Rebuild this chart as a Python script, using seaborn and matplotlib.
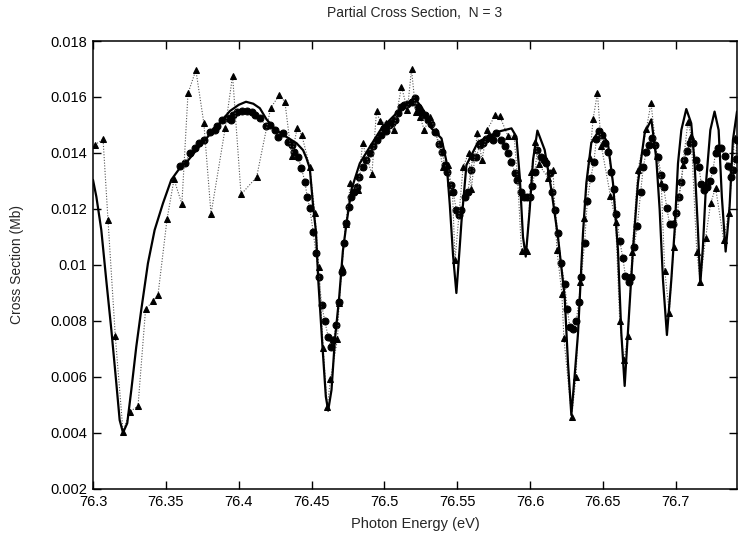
import numpy as np
import pandas as pd
import seaborn as sns
import matplotlib.pyplot as plt

# theory curve (solid)
theory_x = [76.3000, 76.3023, 76.3057, 76.3091, 76.3126, 76.3160, 76.3183, 76.3206, 76.3235, 76.3263,
            76.3297, 76.3331, 76.3377, 76.3423, 76.3480, 76.3537, 76.3594, 76.3650, 76.3740, 76.3825,
            76.3940, 76.4000, 76.4050, 76.4100, 76.4145, 76.4191, 76.4250, 76.4305, 76.4397, 76.4442,
            76.4466, 76.4488, 76.4511, 76.4530, 76.4546, 76.4575, 76.4598, 76.4614, 76.4637, 76.4660,
            76.4690, 76.4715, 76.4740, 76.4774, 76.4831, 76.4900, 76.4980, 76.5094, 76.5186, 76.5209,
            76.5260, 76.5323, 76.5392, 76.5426, 76.5449, 76.5471, 76.5494, 76.5515, 76.5529, 76.5563,
            76.5643, 76.5780, 76.5872, 76.5906, 76.5929, 76.5951, 76.5970, 76.5997, 76.6020, 76.6050,
            76.6100, 76.6146, 76.6191, 76.6237, 76.6260, 76.6283, 76.6305, 76.6329, 76.6363, 76.6386,
            76.6420, 76.6477, 76.6534, 76.6569, 76.6603, 76.6626, 76.6649, 76.6671, 76.6706, 76.6740,
            76.6786, 76.6832, 76.6866, 76.6889, 76.6912, 76.6939, 76.6969, 76.6992, 76.7015, 76.7038,
            76.7072, 76.7106, 76.7129, 76.7152, 76.7168, 76.7186, 76.7209, 76.7237, 76.7266, 76.7294,
            76.7316, 76.7342, 76.7369, 76.7392, 76.7420]
theory_y = [0.01304, 0.01244, 0.01125, 0.00946, 0.00768, 0.00578, 0.00446, 0.00401, 0.00435, 0.00554,
            0.00708, 0.00839, 0.01006, 0.01125, 0.01220, 0.01304, 0.01345, 0.01372, 0.01430, 0.01480,
            0.01550, 0.01572, 0.01583, 0.01576, 0.01560, 0.01520, 0.01485, 0.01465, 0.01435, 0.01410,
            0.01380, 0.01345, 0.01208, 0.01120, 0.00946, 0.00708, 0.00530, 0.00480, 0.00554, 0.00732,
            0.00887, 0.01050, 0.01149, 0.01270, 0.01363, 0.01422, 0.01488, 0.01548, 0.01589, 0.01595,
            0.01560, 0.01488, 0.01452, 0.01369, 0.01214, 0.01036, 0.00900, 0.01050, 0.01155, 0.01357,
            0.01440, 0.01476, 0.01488, 0.01458, 0.01315, 0.01101, 0.01030, 0.01196, 0.01375, 0.01480,
            0.01411, 0.01268, 0.01101, 0.00887, 0.00650, 0.00464, 0.00600, 0.00757, 0.01114, 0.01293,
            0.01436, 0.01485, 0.01435, 0.01292, 0.01054, 0.00757, 0.00568, 0.00757, 0.01054, 0.01292,
            0.01470, 0.01520, 0.01380, 0.01200, 0.00946, 0.00750, 0.00946, 0.01125, 0.01363, 0.01482,
            0.01557, 0.01506, 0.01363, 0.01125, 0.00932, 0.01065, 0.01304, 0.01482, 0.01548, 0.01482,
            0.01244, 0.01048, 0.01208, 0.01446, 0.01548]

# triangles (dotted)
tri_x = [76.3012, 76.3069, 76.3103, 76.3153, 76.3206, 76.3252, 76.3309, 76.3361, 76.3412, 76.3446,
         76.3508, 76.3556, 76.3610, 76.3652, 76.3706, 76.3761, 76.3810, 76.3907, 76.3958, 76.4016,
         76.4123, 76.4219, 76.4278, 76.4317, 76.4363, 76.4401, 76.4433, 76.4488, 76.4523, 76.4550,
         76.4580, 76.4607, 76.4630, 76.4678, 76.4689, 76.4706, 76.4735, 76.4767, 76.4819, 76.4850,
         76.4914, 76.4946, 76.4968, 76.5014, 76.5064, 76.5117, 76.5158, 76.5186, 76.5215, 76.5245,
         76.5273, 76.5313, 76.5356, 76.5400, 76.5435, 76.5467, 76.5485, 76.5540, 76.5578, 76.5597,
         76.5637, 76.5670, 76.5705, 76.5762, 76.5791, 76.5848, 76.5890, 76.5914, 76.5941, 76.5976,
         76.6009, 76.6035, 76.6060, 76.6123, 76.6157, 76.6184, 76.6218, 76.6232, 76.6285, 76.6315,
         76.6343, 76.6370, 76.6409, 76.6432, 76.6462, 76.6489, 76.6551, 76.6587, 76.6615, 76.6644,
         76.6672, 76.6700, 76.6740, 76.6797, 76.6830, 76.6870, 76.6900, 76.6924, 76.6955, 76.6985,
         76.7049, 76.7083, 76.7106, 76.7144, 76.7168, 76.7204, 76.7239, 76.7273, 76.7328, 76.7364,
         76.7403]
tri_y = [0.01429, 0.01449, 0.01161, 0.00746, 0.00405, 0.00476, 0.00496, 0.00843, 0.00871, 0.00893,
         0.01163, 0.01306, 0.01218, 0.01613, 0.01696, 0.01506, 0.01182, 0.01488, 0.01676, 0.01252,
         0.01314, 0.01560, 0.01607, 0.01583, 0.01389, 0.01488, 0.01464, 0.01351, 0.01185, 0.00992,
         0.00703, 0.00492, 0.00592, 0.00735, 0.00865, 0.00992, 0.01146, 0.01292, 0.01268, 0.01435,
         0.01324, 0.01551, 0.01515, 0.01506, 0.01482, 0.01637, 0.01554, 0.01699, 0.01548, 0.01530,
         0.01482, 0.01527, 0.01478, 0.01351, 0.01357, 0.01262, 0.01018, 0.01350, 0.01400, 0.01270,
         0.01470, 0.01375, 0.01482, 0.01537, 0.01532, 0.01461, 0.01461, 0.01310, 0.01050, 0.01050,
         0.01333, 0.01438, 0.01359, 0.01312, 0.01339, 0.01054, 0.00898, 0.00738, 0.00458, 0.00600,
         0.00938, 0.01167, 0.01381, 0.01520, 0.01615, 0.01425, 0.01248, 0.01155, 0.00800, 0.00660,
         0.00746, 0.01048, 0.01339, 0.01484, 0.01578, 0.01390, 0.01292, 0.00980, 0.00830, 0.01065,
         0.01357, 0.01512, 0.01459, 0.01046, 0.00940, 0.01095, 0.01220, 0.01276, 0.01090, 0.01187,
         0.01452]

# circles (dotted)
circ_x = [76.3597, 76.3631, 76.3665, 76.3700, 76.3730, 76.3761, 76.3802, 76.3837, 76.3853, 76.3883,
          76.3917, 76.3944, 76.3962, 76.3986, 76.4020, 76.4054, 76.4088, 76.4111, 76.4145, 76.4187,
          76.4214, 76.4248, 76.4271, 76.4305, 76.4339, 76.4363, 76.4379, 76.4408, 76.4431, 76.4454,
          76.4470, 76.4488, 76.4511, 76.4530, 76.4552, 76.4569, 76.4591, 76.4614, 76.4632, 76.4648,
          76.4671, 76.4690, 76.4706, 76.4722, 76.4735, 76.4758, 76.4774, 76.4790, 76.4809, 76.4826,
          76.4850, 76.4872, 76.4900, 76.4922, 76.4952, 76.4975, 76.4997, 76.5014, 76.5031, 76.5049,
          76.5071, 76.5094, 76.5113, 76.5135, 76.5158, 76.5186, 76.5209, 76.5231, 76.5254, 76.5277,
          76.5300, 76.5323, 76.5346, 76.5373, 76.5396, 76.5414, 76.5433, 76.5455, 76.5471, 76.5494,
          76.5512, 76.5529, 76.5551, 76.5574, 76.5593, 76.5608, 76.5632, 76.5654, 76.5677, 76.5700,
          76.5723, 76.5746, 76.5769, 76.5803, 76.5826, 76.5849, 76.5872, 76.5894, 76.5912, 76.5935,
          76.5958, 76.5981, 76.5997, 76.6016, 76.6032, 76.6050, 76.6073, 76.6095, 76.6112, 76.6134,
          76.6150, 76.6173, 76.6191, 76.6214, 76.6237, 76.6256, 76.6272, 76.6294, 76.6317, 76.6333,
          76.6352, 76.6374, 76.6393, 76.6416, 76.6438, 76.6455, 76.6473, 76.6493, 76.6517, 76.6534,
          76.6558, 76.6575, 76.6592, 76.6615, 76.6637, 76.6654, 76.6676, 76.6695, 76.6713, 76.6736,
          76.6759, 76.6777, 76.6797, 76.6813, 76.6836, 76.6855, 76.6877, 76.6900, 76.6916, 76.6939,
          76.6957, 76.6980, 76.6999, 76.7019, 76.7038, 76.7056, 76.7076, 76.7099, 76.7117, 76.7136,
          76.7159, 76.7175, 76.7193, 76.7217, 76.7237, 76.7255, 76.7273, 76.7289, 76.7312, 76.7335,
          76.7358, 76.7376, 76.7392, 76.7410, 76.7420]
circ_y = [0.01354, 0.01363, 0.01399, 0.01419, 0.01435, 0.01446, 0.01476, 0.01482, 0.01497, 0.01518,
          0.01526, 0.01518, 0.01536, 0.01545, 0.01550, 0.01550, 0.01545, 0.01536, 0.01526, 0.01497,
          0.01500, 0.01482, 0.01458, 0.01470, 0.01440, 0.01429, 0.01405, 0.01385, 0.01345, 0.01298,
          0.01244, 0.01202, 0.01119, 0.01042, 0.00958, 0.00857, 0.00800, 0.00744, 0.00708, 0.00732,
          0.00786, 0.00869, 0.00976, 0.01077, 0.01149, 0.01208, 0.01244, 0.01262, 0.01280, 0.01315,
          0.01349, 0.01375, 0.01399, 0.01426, 0.01446, 0.01464, 0.01488, 0.01479, 0.01500, 0.01506,
          0.01518, 0.01542, 0.01565, 0.01571, 0.01574, 0.01583, 0.01595, 0.01565, 0.01548, 0.01536,
          0.01518, 0.01502, 0.01476, 0.01431, 0.01405, 0.01357, 0.01333, 0.01286, 0.01262, 0.01196,
          0.01179, 0.01196, 0.01244, 0.01262, 0.01339, 0.01387, 0.01387, 0.01429, 0.01435, 0.01449,
          0.01456, 0.01446, 0.01470, 0.01446, 0.01425, 0.01399, 0.01369, 0.01330, 0.01304, 0.01262,
          0.01242, 0.01242, 0.01242, 0.01282, 0.01333, 0.01411, 0.01387, 0.01375, 0.01363, 0.01327,
          0.01262, 0.01196, 0.01113, 0.01006, 0.00932, 0.00842, 0.00780, 0.00770, 0.00800, 0.00869,
          0.00958, 0.01080, 0.01230, 0.01310, 0.01369, 0.01449, 0.01480, 0.01464, 0.01435, 0.01405,
          0.01333, 0.01270, 0.01182, 0.01087, 0.01024, 0.00961, 0.00940, 0.00956, 0.01065, 0.01139,
          0.01262, 0.01351, 0.01405, 0.01429, 0.01452, 0.01429, 0.01387, 0.01321, 0.01280, 0.01202,
          0.01146, 0.01146, 0.01185, 0.01244, 0.01298, 0.01375, 0.01408, 0.01435, 0.01435, 0.01375,
          0.01349, 0.01289, 0.01268, 0.01280, 0.01300, 0.01339, 0.01401, 0.01417, 0.01417, 0.01389,
          0.01354, 0.01315, 0.01339, 0.01377, 0.01446]

x_ticks = [76.3, 76.35, 76.4, 76.45, 76.5, 76.55, 76.6, 76.65, 76.7]
x_tick_labels = ["76.3", "76.35", "76.4", "76.45", "76.5", "76.55", "76.6", "76.65", "76.7"]
y_ticks = [0.002, 0.004, 0.006, 0.008, 0.010, 0.012, 0.014, 0.016, 0.018]
y_tick_labels = ["0.002", "0.004", "0.006", "0.008", "0.01", "0.012", "0.014", "0.016", "0.018"]

sns.set_theme(style="ticks")
plt.rcParams['font.family'] = ['Liberation Sans', 'DejaVu Sans']

fig = plt.figure(figsize=(7.38, 5.34), dpi=100)
ax = fig.add_axes([93 / 738, 1 - 489 / 534, (737 - 93) / 738, (489 - 41) / 534])

sns.lineplot(x=circ_x, y=circ_y, ax=ax, estimator=None, sort=False, color='#555555',
             linestyle=(0, (1, 1.5)), linewidth=0.8, marker='o', markersize=5,
             markerfacecolor='black', markeredgecolor='black')
sns.lineplot(x=tri_x, y=tri_y, ax=ax, estimator=None, sort=False, color='#555555',
             linestyle=(0, (1, 1.5)), linewidth=0.8, marker='^', markersize=5,
             markerfacecolor='black', markeredgecolor='black')
sns.lineplot(x=theory_x, y=theory_y, ax=ax, estimator=None, sort=False, color='black',
             linewidth=1.6)

ax.set_xlim(76.3, 76.742)
ax.set_ylim(0.002, 0.018)
ax.set_xticks(x_ticks)
ax.set_xticklabels(x_tick_labels)
ax.set_yticks(y_ticks)
ax.set_yticklabels(y_tick_labels)
ax.tick_params(axis='both', direction='in', length=6, width=1, labelsize=10.5,
               top=True, right=True, colors='black', pad=4)
for s in ax.spines.values():
    s.set_linewidth(1.1)
    s.set_color('black')

ax.set_title('Partial Cross Section,  N = 3', fontsize=10, pad=17)
ax.set_xlabel('Photon Energy (eV)', fontsize=10.5, labelpad=6)
ax.set_ylabel('Cross Section (Mb)', fontsize=10, labelpad=19)

fig.savefig('out.png', dpi=100)
